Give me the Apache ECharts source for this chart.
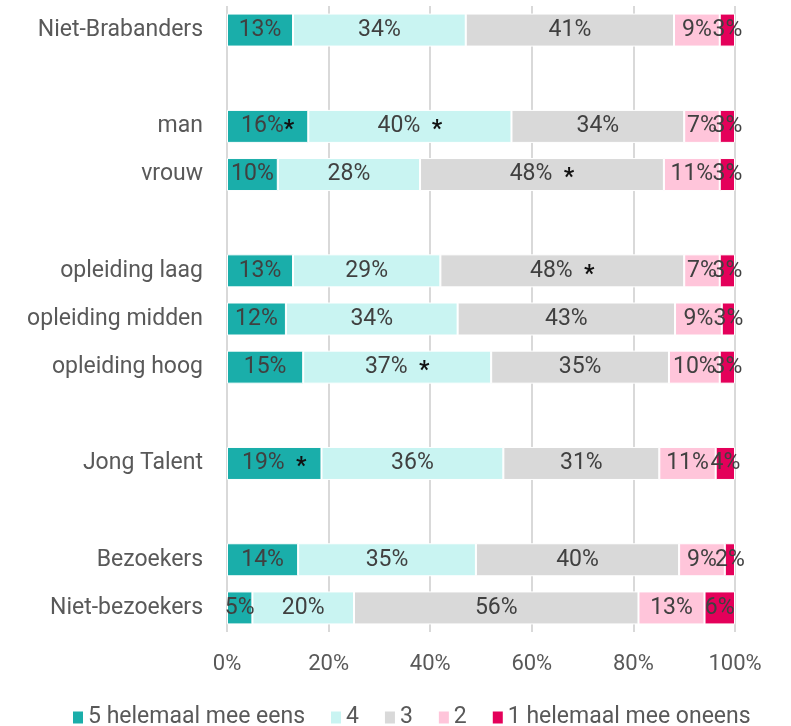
<!DOCTYPE html>
<html>
<head>
<meta charset="utf-8">
<script src="https://cdn.jsdelivr.net/npm/echarts@6/dist/echarts.min.js"></script>
<style>
  html, body { margin: 0; padding: 0; background: #ffffff; }
  #chart { width: 791px; height: 726px; }
</style>
</head>
<body>
<div id="chart"></div>
<script>
// Groups, top to bottom; blank entries are spacer rows between groups
const categories = ['Niet-Brabanders', ' ', 'man', 'vrouw', '  ', 'opleiding laag', 'opleiding midden', 'opleiding hoog', '   ', 'Jong Talent', '    ', 'Bezoekers', 'Niet-bezoekers'];

const seriesNames = ['5 helemaal mee eens', '4', '3', '2', '1 helemaal mee oneens'];

// Share of respondents per answer (percent)
const score5 = [13, null, 16, 10, null, 13, 11.6, 15, null, 18.6, null, 14, 5];
const score4 = [34, null, 40, 28, null, 29, 33.8, 37, null, 35.8, null, 35, 20];
const score3 = [41, null, 34, 48, null, 48, 42.8, 35, null, 30.7, null, 40, 56];
const score2 = [9, null, 7, 11, null, 7, 9.2, 10, null, 11.1, null, 9, 13];
const score1 = [3, null, 3, 3, null, 3, 2.6, 3, null, 3.8, null, 2, 6];

// Significant differences, marked with an asterisk
const stars5 = ['man', 'Jong Talent'];
const stars4 = ['man', 'opleiding hoog'];
const stars3 = ['vrouw', 'opleiding laag'];
const stars2 = [];
const stars1 = [];

const tickLabels = ['0%', '20%', '40%', '60%', '80%', '100%'];

const colors = ['#1aaeaa', '#c9f4f2', '#d9d9d9', '#ffc5da', '#e4005a'];
const FONT = 'Roboto';

const values = [score5, score4, score3, score2, score1];
const stars = [stars5, stars4, stars3, stars2, stars1];

const chart = echarts.init(document.getElementById('chart'), null, { renderer: 'canvas' });

const series = values.map((vals, i) => ({
  name: seriesNames[i],
  type: 'bar',
  stack: 'total',
  barWidth: 33,
  data: vals,
  itemStyle: { color: colors[i], borderColor: '#ffffff', borderWidth: 1 },
  label: {
    show: true,
    position: 'inside',
    color: '#404040',
    fontFamily: FONT,
    fontSize: 23,
    formatter: p => {
      if (p.value == null) return '';
      const txt = Math.round(p.value) + '%';
      if (stars[i].indexOf(p.name) >= 0) {
        const gap = (p.name === 'man' && i === 0) ? '' : '  ';
        return '{v|' + txt + '}' + gap + '{s|*}';
      }
      return '{v|' + txt + '}';
    },
    rich: {
      v: { color: '#404040', fontFamily: FONT, fontSize: 23 },
      s: { color: '#111111', fontFamily: FONT, fontSize: 23, fontWeight: 'bold', padding: [8, 0, 0, 0] }
    }
  },
  emphasis: { disabled: true }
}));

chart.setOption({
  animation: false,
  backgroundColor: '#ffffff',
  grid: { left: 227, right: 56, top: 6, bottom: 94, containLabel: false },
  legend: {
    top: 701,
    left: 66,
    itemWidth: 12,
    itemHeight: 14,
    itemGap: 24,
    icon: 'rect',
    textStyle: { color: '#595959', fontFamily: FONT, fontSize: 23, padding: [0, 0, 0, -1] },
    data: seriesNames
  },
  xAxis: {
    type: 'value',
    min: 0,
    max: 100,
    interval: 20,
    axisLine: { show: false },
    axisTick: { show: false },
    splitLine: { show: true, lineStyle: { color: '#d9d9d9', width: 2 } },
    axisLabel: {
      color: '#595959',
      fontFamily: FONT,
      fontSize: 22,
      margin: 21,
      formatter: v => tickLabels[Math.round(v / 20)]
    }
  },
  yAxis: {
    type: 'category',
    inverse: true,
    data: categories,
    axisLine: { show: false },
    axisTick: { show: false },
    axisLabel: { color: '#595959', fontFamily: FONT, fontSize: 23, margin: 24 }
  },
  series: series
});
</script>
</body>
</html>
